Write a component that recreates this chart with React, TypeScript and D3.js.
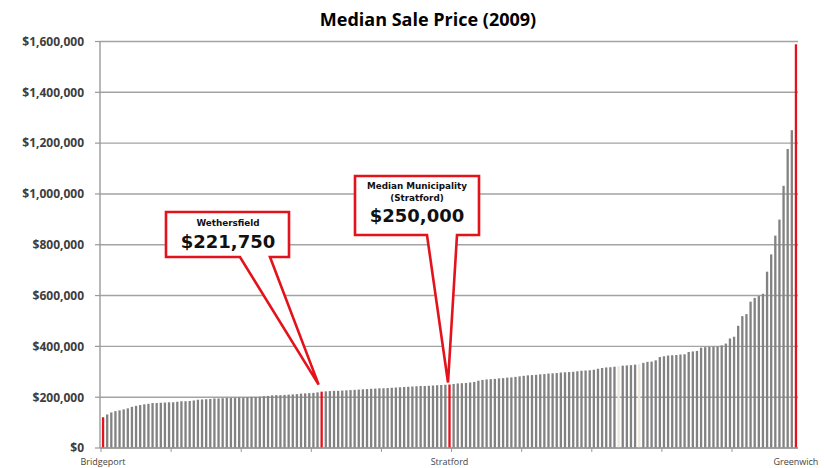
import React from 'react';
import * as d3 from 'd3';

// Median sale price by municipality, 2009, sorted ascending (169 towns)
const medianPrices: number[] = [
  121000, 132000, 140000, 145000, 148000, 152000, 156000, 162000, 166000, 169000,
  172000, 174000, 177000, 177000, 178000, 179000, 180000, 180000, 182000, 184000,
  184000, 185000, 187000, 190000, 191000, 192000, 193000, 195000, 195000, 196000,
  197000, 197000, 198000, 199000, 199000, 200000, 201000, 201000, 202000, 204000,
  205000, 207000, 208000, 208000, 209000, 210000, 211000, 212000, 214000, 215000,
  216000, 217000, 219000, 221750, 223000, 224000, 225000, 225000, 226000, 227000,
  228000, 229000, 230000, 231000, 232000, 233000, 234000, 235000, 235000, 236000,
  237000, 238000, 239000, 240000, 241000, 242000, 243000, 244000, 244000, 245000,
  246000, 247000, 248000, 249000, 250000, 252000, 254000, 255000, 256000, 258000,
  260000, 265000, 268000, 270000, 271000, 272000, 274000, 275000, 277000, 278000,
  280000, 282000, 284000, 286000, 287000, 288000, 290000, 291000, 293000, 294000,
  295000, 297000, 298000, 299000, 300000, 302000, 304000, 305000, 306000, 308000,
  312000, 315000, 317000, 318000, 320000, 322000, 324000, 325000, 326000, 328000,
  330000, 335000, 339000, 340000, 345000, 358000, 361000, 364000, 365000, 366000,
  368000, 369000, 378000, 380000, 382000, 395000, 397000, 398000, 399000, 400000,
  404000, 411000, 431000, 438000, 481000, 519000, 527000, 576000, 591000, 598000,
  607000, 694000, 762000, 836000, 899000, 1032000, 1177000, 1251000, 1589000,
];

const highlightIdx: number[] = [0, 53, 84, 168];
const lightIdx: number[] = [125, 130];
const townLabels = [
  { i: 0, name: 'Bridgeport' },
  { i: 84, name: 'Stratford' },
  { i: 168, name: 'Greenwich' },
];
const yTicks: number[] = [0, 200000, 400000, 600000, 800000, 1000000, 1200000, 1400000, 1600000];
const title = 'Median Sale Price (2009)';
const wethersfieldIdx = 53;
const medianIdx = 84;

export default function App() {
  const W = 824;
  const H = 468;
  const left = 100;
  const right = 798;
  const top = 41.5;
  const bottom = 448;
  const n = medianPrices.length;

  const x = d3.scaleBand<number>().domain(d3.range(n)).range([101, 798]).padding(0);
  const y = d3.scaleLinear().domain([0, 1600000]).range([bottom, top]);
  const fmt = d3.format('$,');
  const step = x.step();
  const bw = step * 0.56;
  const cx = (i: number) => (x(i) as number) + step / 2;

  const red = '#e3121b';
  const tickIdx = d3.range(0, n + 1, 17);

  // callout tips derived from data
  const wx = cx(wethersfieldIdx) - 3;
  const wy = y(medianPrices[wethersfieldIdx]) - 7;
  const mx = cx(medianIdx) - 1.5;
  const my = y(medianPrices[medianIdx]) - 2;

  const wPath = `M166,212 H289 V257 H270 L${wx},${wy} L240,257 H166 Z`;
  const mPath = `M355,176 H479 V235 H457 L${mx},${my} L427,235 H355 Z`;

  return (
    <svg width={W} height={H} style={{ position: 'absolute', left: 0, top: 0, background: '#fff' }}>
      <rect x={0} y={0} width={W} height={H} fill="#fff" />
      {/* gridlines */}
      {yTicks.map((t) => (
        <line key={'g' + t} x1={left} x2={right} y1={y(t)} y2={y(t)} stroke="#a3a3a3" strokeWidth={1.4} />
      ))}
      {/* bars */}
      {medianPrices.map((v, i) => {
        const isRed = highlightIdx.includes(i);
        const isLight = lightIdx.includes(i);
        return (
          <rect
            key={'b' + i}
            x={cx(i) - bw / 2}
            y={y(v)}
            width={bw}
            height={bottom - y(v)}
            fill={isRed ? red : isLight ? '#ece7dc' : '#828282'}
          />
        );
      })}
      {/* axes */}
      <line x1={left} x2={left} y1={top} y2={bottom} stroke="#9a9a9a" strokeWidth={1.4} />
      <line x1={left} x2={right} y1={bottom} y2={bottom} stroke="#9a9a9a" strokeWidth={1.4} />
      {yTicks.map((t) => (
        <line key={'yt' + t} x1={left - 5} x2={left} y1={y(t)} y2={y(t)} stroke="#9a9a9a" strokeWidth={1.2} />
      ))}
      {tickIdx.map((k) => (
        <line key={'xt' + k} x1={101 + k * step} x2={101 + k * step} y1={bottom} y2={bottom + 4} stroke="#9a9a9a" strokeWidth={1} />
      ))}
      {/* y labels */}
      {yTicks.map((t) => (
        <text
          key={'yl' + t}
          x={84}
          y={y(t)}
          dy="0.36em"
          textAnchor="end"
          fontFamily="'Open Sans', sans-serif"
          fontWeight={700}
          fontSize={12}
          fill="#3d3d3d"
        >
          {fmt(t)}
        </text>
      ))}
      {/* town labels */}
      {townLabels.map((d) => (
        <text
          key={d.name}
          x={cx(d.i)}
          y={465}
          textAnchor="middle"
          fontFamily="'Open Sans', sans-serif"
          fontSize={9}
          fill="#444"
        >
          {d.name}
        </text>
      ))}
      {/* title */}
      <text x={428} y={26} textAnchor="middle" fontFamily="'Open Sans', sans-serif" fontWeight={700} fontSize={18} fill="#000">
        {title}
      </text>
      {/* callouts */}
      <path d={wPath} fill="#fff" stroke={red} strokeWidth={2.6} strokeLinejoin="miter" />
      <text x={228} y={226} textAnchor="middle" fontFamily="'DejaVu Sans', sans-serif" fontWeight={700} fontSize={8.8} fill="#111">
        Wethersfield
      </text>
      <text x={228} y={248} textAnchor="middle" fontFamily="'DejaVu Sans', sans-serif" fontWeight={700} fontSize={18} fill="#111">
        {fmt(medianPrices[wethersfieldIdx])}
      </text>
      <path d={mPath} fill="#fff" stroke={red} strokeWidth={2.6} strokeLinejoin="miter" />
      <text x={417} y={189} textAnchor="middle" fontFamily="'DejaVu Sans', sans-serif" fontWeight={700} fontSize={8.8} fill="#111">
        Median Municipality
      </text>
      <text x={417} y={200.5} textAnchor="middle" fontFamily="'DejaVu Sans', sans-serif" fontWeight={700} fontSize={8.8} fill="#111">
        (Stratford)
      </text>
      <text x={417} y={222} textAnchor="middle" fontFamily="'DejaVu Sans', sans-serif" fontWeight={700} fontSize={18} fill="#111">
        {fmt(medianPrices[medianIdx])}
      </text>
    </svg>
  );
}
